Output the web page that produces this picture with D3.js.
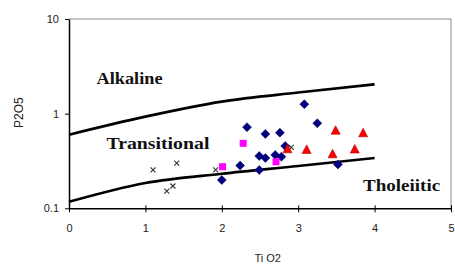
<!DOCTYPE html>
<html><head><meta charset="utf-8">
<script src="https://cdn.jsdelivr.net/npm/d3@7"></script>
<style>html,body{margin:0;padding:0;background:#fff;}svg{display:block;}</style>
</head><body>
<svg id="chart" width="455" height="264"></svg>
<script>
// ---- data ----
const xTicks = [0, 1, 2, 3, 4, 5];
const yTicks = [0.1, 1, 10];
const boundaryX = [0, 1, 2, 3, 4];
const alkalineBoundary = [0.6, 0.93, 1.34, 1.67, 2.04];
const tholeiiticBoundary = [0.117, 0.185, 0.232, 0.28, 0.34];

const diamondX = [2.33, 2.57, 2.76, 2.83, 2.49, 2.57, 2.70, 2.78, 2.24, 2.49, 2.00, 3.08, 3.25, 3.52];
const diamondY = [0.72, 0.61, 0.63, 0.455, 0.357, 0.34, 0.366, 0.351, 0.283, 0.254, 0.199, 1.26, 0.79, 0.29];
const squareX = [2.28, 2.01, 2.71];
const squareY = [0.486, 0.275, 0.31];
const triangleX = [2.86, 3.49, 3.85, 3.11, 3.45, 3.74];
const triangleY = [0.42, 0.66, 0.62, 0.414, 0.372, 0.418];
const crossX = [1.10, 1.41, 1.28, 1.36, 1.92, 2.91];
const crossY = [0.254, 0.30, 0.152, 0.172, 0.254, 0.44];

const fieldLabels = ["Alkaline", "Transitional", "Tholeiitic"];
const fieldLabelX = [0.36, 0.49, 3.85];
const fieldLabelY = [2.06, 0.42, 0.153];
const fieldLabelLen = [66, 103, 77];

// ---- layout ----
const svg = d3.select("#chart");
const L = 69, R = 451, T = 19, B = 208.3;
const x = d3.scaleLinear().domain([0, 5]).range([L, R]);
const y = d3.scaleLog().domain([0.1, 10]).range([B, T]);

// frame (top/right)
svg.append("path")
  .attr("d", `M${L},${T}H${R}V${B}`)
  .attr("fill", "none").attr("stroke", "#8a8a8a").attr("stroke-width", 1);

// axes
const xAxis = svg.append("g").attr("transform", `translate(0,${B})`)
  .call(d3.axisBottom(x).tickValues(xTicks).tickFormat(d3.format("d")).tickSize(4).tickSizeOuter(0));
xAxis.selectAll(".tick line").attr("y1", -3).attr("y2", 4);
xAxis.select(".domain").attr("stroke-width", 1.5);
xAxis.selectAll("text").attr("dy", "0").attr("y", 24)
  .style("font-family", "Liberation Sans, Arial, sans-serif").style("font-size", "11px").attr("fill", "#222");

const yAxis = svg.append("g").attr("transform", `translate(${L},0)`)
  .call(d3.axisLeft(y).tickValues(yTicks).tickFormat(d => d === 0.1 ? "0.1" : String(d)).tickSize(4).tickSizeOuter(0));
yAxis.select(".domain").attr("stroke-width", 1.5);
yAxis.selectAll("text").attr("x", -10)
  .style("font-family", "Liberation Sans, Arial, sans-serif").style("font-size", "11px").attr("fill", "#222");

// axis titles
svg.append("text").attr("x", x(2.6)).attr("y", 262)
  .attr("text-anchor", "middle")
  .style("font-family", "Liberation Sans, Arial, sans-serif").style("font-size", "11px").attr("fill", "#222")
  .text("Ti O2");
svg.append("text").attr("transform", `translate(23,${y(1) - 1}) rotate(-90)`)
  .attr("text-anchor", "middle")
  .style("font-family", "Liberation Sans, Arial, sans-serif").style("font-size", "12px").attr("fill", "#222")
  .text("P2O5");

// boundary lines
const line = d3.line().x(d => x(d[0])).y(d => y(d[1])).curve(d3.curveMonotoneX);
[alkalineBoundary, tholeiiticBoundary].forEach(arr => {
  svg.append("path")
    .datum(boundaryX.map((v, i) => [v, arr[i]]))
    .attr("d", line).attr("fill", "none").attr("stroke", "#000").attr("stroke-width", 2.6);
});

// markers
const g = svg.append("g");
g.selectAll(".cross").data(crossX.map((v, i) => [v, crossY[i]])).join("path")
  .attr("transform", d => `translate(${x(d[0])},${y(d[1])})`)
  .attr("d", "M-2.5,-2.5L2.5,2.5M-2.5,2.5L2.5,-2.5")
  .attr("stroke", "#333").attr("stroke-width", 1.1).attr("fill", "none");

g.selectAll(".dia").data(diamondX.map((v, i) => [v, diamondY[i]])).join("path")
  .attr("transform", d => `translate(${x(d[0])},${y(d[1])})`)
  .attr("d", "M0,-4.5L4.5,0L0,4.5L-4.5,0Z")
  .attr("fill", "#000080").attr("stroke", "#000060").attr("stroke-width", 0.5);

g.selectAll(".sq").data(squareX.map((v, i) => [v, squareY[i]])).join("rect")
  .attr("x", d => x(d[0]) - 3.5).attr("y", d => y(d[1]) - 3.5)
  .attr("width", 7).attr("height", 7)
  .attr("fill", "#ff00ff");

g.selectAll(".tri").data(triangleX.map((v, i) => [v, triangleY[i]])).join("path")
  .attr("transform", d => `translate(${x(d[0])},${y(d[1])})`)
  .attr("d", "M0,-5L4.5,3.5L-4.5,3.5Z")
  .attr("fill", "#ff0000").attr("stroke", "#b00000").attr("stroke-width", 0.6);

// field labels
fieldLabels.forEach((t, i) => {
  svg.append("text")
    .attr("x", x(fieldLabelX[i])).attr("y", y(fieldLabelY[i]))
    .attr("textLength", fieldLabelLen[i]).attr("lengthAdjust", "spacingAndGlyphs")
    .style("font-family", "Liberation Serif, Times New Roman, serif")
    .style("font-size", "17px").style("font-weight", "bold").attr("fill", "#111")
    .text(t);
});
</script>
</body></html>
